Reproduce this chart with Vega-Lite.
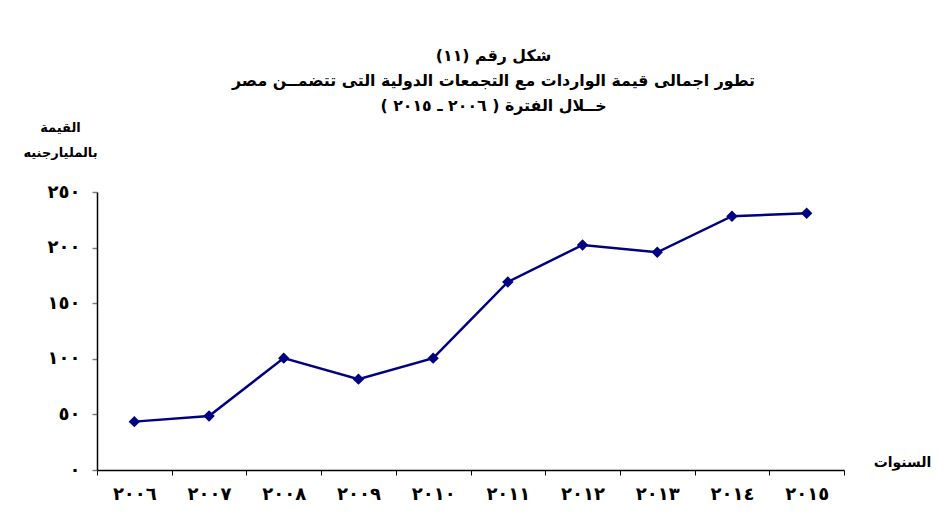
{
  "$schema": "https://vega.github.io/schema/vega-lite/v6.json",
  "autosize": {"type": "none"},
  "width": 747,
  "height": 278,
  "padding": {"left": 97, "top": 192, "right": 99, "bottom": 62},
  "background": "white",
  "title": {
    "text": ["\u200fشكل رقم (١١)\u200f", "\u200fتطور اجمالى قيمة الواردات مع التجمعات الدولية التى تتضمــن مصر\u200f", "\u200fخــلال الفترة ( ٢٠٠٦ ـ ٢٠١٥ )\u200f"],
    "anchor": "middle",
    "font": "DejaVu Sans",
    "fontSize": 15.8,
    "fontWeight": "bold",
    "color": "black",
    "lineHeight": 25,
    "offset": 6,
    "dx": 23
  },
  "data": {
    "values": [
      {"year": "٢٠٠٦", "value": 43.5},
      {"year": "٢٠٠٧", "value": 48.6},
      {"year": "٢٠٠٨", "value": 100.6},
      {"year": "٢٠٠٩", "value": 81.7},
      {"year": "٢٠١٠", "value": 100.6},
      {"year": "٢٠١١", "value": 169.1},
      {"year": "٢٠١٢", "value": 202.4},
      {"year": "٢٠١٣", "value": 195.8},
      {"year": "٢٠١٤", "value": 228.2},
      {"year": "٢٠١٥", "value": 230.9}
    ]
  },
  "encoding": {
    "x": {
      "field": "year",
      "type": "nominal",
      "sort": null,
      "scale": {"paddingInner": 0, "paddingOuter": 0},
      "axis": {
        "title": "السنوات",
        "titleAngle": 0,
        "titleX": 805,
        "titleY": -4,
        "titleAlign": "center",
        "titleBaseline": "alphabetic",
        "titleFont": "DejaVu Sans",
        "titleFontSize": 14,
        "titleFontWeight": "bold",
        "titleColor": "black",
        "labelAngle": 0,
        "labelFont": "DejaVu Sans",
        "labelFontSize": 18,
        "labelFontWeight": "bold",
        "labelColor": "black",
        "labelPadding": 10,
        "tickBand": "extent",
        "tickSize": 5,
        "tickColor": "black",
        "domainColor": "black",
        "domainWidth": 1.5,
        "grid": false
      }
    },
    "y": {
      "field": "value",
      "type": "quantitative",
      "scale": {"domain": [0, 250], "nice": false},
      "axis": {
        "values": [0, 50, 100, 150, 200, 250],
        "labelExpr": "datum.value == 0 ? '٠' : datum.value == 50 ? '٥٠' : datum.value == 100 ? '١٠٠' : datum.value == 150 ? '١٥٠' : datum.value == 200 ? '٢٠٠' : '٢٥٠'",
        "title": ["القيمة", "بالمليارجنيه"],
        "titleAngle": 0,
        "titleX": -37,
        "titleY": -61,
        "titleAlign": "center",
        "titleBaseline": "alphabetic",
        "titleLineHeight": 25,
        "titleFont": "DejaVu Sans",
        "titleFontSize": 13,
        "titleFontWeight": "bold",
        "titleColor": "black",
        "labelFont": "DejaVu Sans",
        "labelFontSize": 18,
        "labelFontWeight": "bold",
        "labelColor": "black",
        "labelPadding": 12,
        "tickSize": 5,
        "tickColor": "#808080",
        "tickWidth": 1.5,
        "domainColor": "black",
        "domainWidth": 1.5,
        "grid": false
      }
    }
  },
  "layer": [
    {"mark": {"type": "line", "color": "#000080", "strokeWidth": 2.5}},
    {"mark": {"type": "point", "shape": "diamond", "filled": true, "color": "#000080", "size": 130, "opacity": 1}}
  ],
  "config": {"view": {"stroke": null}}
}
